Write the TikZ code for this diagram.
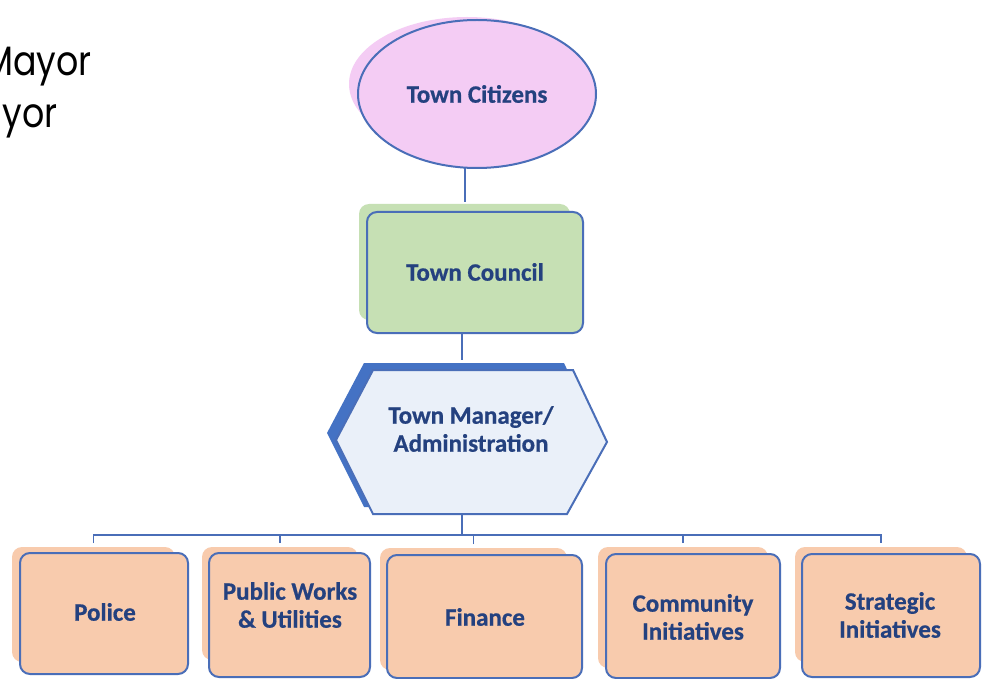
\documentclass[tikz,border=0pt]{standalone}
\usepackage{fontspec}
\setmainfont{Carlito}
\newfontfamily\popfont{Poppins}
\newfontfamily\lblfont[FakeBold=0.6]{Carlito Bold}
\usetikzlibrary{shapes.geometric,calc}
\definecolor{edge}{HTML}{4A6EB8}
\definecolor{txt}{HTML}{24417F}
\definecolor{pinkf}{HTML}{F4CCF4}
\definecolor{greenf}{HTML}{C6E0B4}
\definecolor{peach}{HTML}{F8CBAD}
\definecolor{hexf}{HTML}{EAF0F9}
\definecolor{hexs}{HTML}{4472C4}
\begin{document}
\begin{tikzpicture}[x=1pt,y=-1pt,
  lbl/.style={font=\lblfont\fontsize{25}{28}\selectfont, text=txt, align=center, inner sep=0pt},
  mayortxt/.style={font=\popfont\fontsize{41}{48}\selectfont, anchor=base east, inner sep=0pt, xscale=0.85, transform shape},
  conn/.style={draw=edge, line width=1.6pt},
  shadowbox/.style={rectangle, rounded corners=10pt, inner sep=0pt, outer sep=0pt},
  mainbox/.style={rectangle, rounded corners=10pt, draw=edge, line width=2pt, inner sep=0pt, outer sep=0pt},
  ellsh/.style={ellipse, fill=pinkf, inner sep=0pt, outer sep=0pt},
  ellmain/.style={ellipse, fill=pinkf, draw=edge, line width=2pt, inner sep=0pt, outer sep=0pt}]
\useasboundingbox (0,0) rectangle (985,679);
\clip (0,0) rectangle (985,679);
\fill[white] (0,0) rectangle (985,679);

% top-left text (clipped by the left edge, as in the reference)
\node[mayortxt] (mayor1) at (92,76) {Mayor};
\node[mayortxt] (mayor2) at (58,128) {yor};

% Town citizens
\node[ellsh, minimum width=236pt, minimum height=134pt] (citsh) at (467,84) {};
\node[ellmain, minimum width=238pt, minimum height=148pt] (cit) at (477,94) {};
\node[lbl] (citt) at (477,94) {Town Citizens};

% Town council
\node[shadowbox, fill=greenf, minimum width=211pt, minimum height=116pt] (coush) at (464.5,262) {};
\node[mainbox, fill=greenf, minimum width=216pt, minimum height=121pt] (cou) at (475,272.5) {};
\node[lbl] (cout) at (475,272) {Town Council};

% Town manager hexagon
\fill[hexs] (364,363) coordinate (hs1) -- (564,363) -- (598,435) -- (558,507) -- (364,507) -- (327,433) -- cycle;
\filldraw[fill=hexf, draw=edge, line width=2pt] (373,370) coordinate (ht) -- (573,370) -- (607,442) -- (567,514) -- (373,514) coordinate (hb) -- (336,440) -- cycle;
\coordinate (hextop) at (462,363);
\coordinate (hexbot) at (462,514);
\node[lbl] (mgr) at (471,429) {Town Manager/\\Administration};

% departments
\node[shadowbox, fill=peach, minimum width=163pt, minimum height=115pt] (sh1) at (93.5,604.5) {};
\node[mainbox, fill=peach, minimum width=168pt, minimum height=121pt] (d1) at (104,613.5) {};
\node[lbl] (t1) at (105,612) {Police};

\node[shadowbox, fill=peach, minimum width=156pt, minimum height=113pt] (sh2) at (280,603.5) {};
\node[mainbox, fill=peach, minimum width=161pt, minimum height=124pt] (d2) at (289.5,615) {};
\node[lbl] (t2) at (290,605) {Public Works\\\& Utilities};

\node[shadowbox, fill=peach, minimum width=187pt, minimum height=122pt] (sh3) at (473.5,609) {};
\node[mainbox, fill=peach, minimum width=195pt, minimum height=123pt] (d3) at (484.5,616.5) {};
\node[lbl] (t3) at (485,617) {Finance};

\node[shadowbox, fill=peach, minimum width=170pt, minimum height=121pt] (sh4) at (683,607.5) {};
\node[mainbox, fill=peach, minimum width=174pt, minimum height=124pt] (d4) at (693,616) {};
\node[lbl] (t4) at (693,617) {Community\\Initiatives};

\node[shadowbox, fill=peach, minimum width=172pt, minimum height=115pt] (sh5) at (881,604.5) {};
\node[mainbox, fill=peach, minimum width=178pt, minimum height=123pt] (d5) at (891,615.5) {};
\node[lbl] (t5) at (890,615) {Strategic\\Initiatives};

% connectors
\coordinate (c1) at (465,0);
\coordinate (c2) at (462,0);
\coordinate (busy) at (0,535);
\draw[conn] (cit.south -| c1) -- ([yshift=2pt]coush.north -| c1);
\draw[conn] (cou.south -| c2) -- ([yshift=3pt]hextop);
\draw[conn] (hexbot) -- (hexbot |- busy);
\draw[conn] ([yshift=4pt]sh1.north) -- (sh1.north |- busy) -- (sh5.north |- busy) -- ([yshift=4pt]sh5.north);
\foreach \i in {2,3,4}{
  \draw[conn] ([yshift=4pt]sh\i.north) -- (sh\i.north |- busy);
}
\end{tikzpicture}
\end{document}
